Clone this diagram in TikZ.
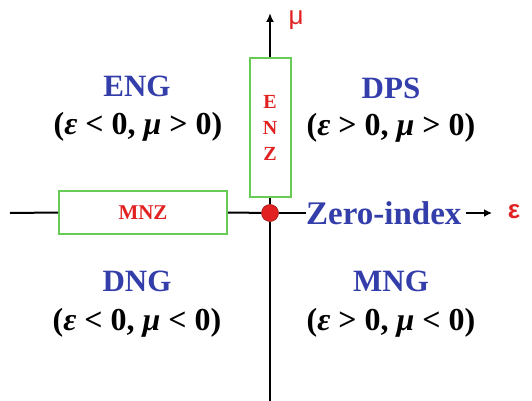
\documentclass[tikz,border=0pt]{standalone}
\usepackage{fontspec}
\setmainfont{Liberation Serif}
\newfontfamily\axisfont{Liberation Sans}
\usepackage{xcolor}
\usepackage{tikz}
\usetikzlibrary{arrows.meta,positioning}
\definecolor{zblue}{RGB}{52,62,170}
\definecolor{zred}{RGB}{226,34,34}
\definecolor{zgreen}{RGB}{102,204,85}

\begin{document}
\begin{tikzpicture}[x=1pt,y=-1pt,>=Latex,
  axis/.style={line width=2pt,draw=black},
  zerobox/.style={draw=zgreen,line width=2pt,fill=white,inner sep=0pt,text=zred},
  region/.style={text=zblue,font=\bfseries\fontsize{31}{31}\selectfont},
  cond/.style={font=\bfseries\fontsize{32}{32}\selectfont},
  axlabel/.style={text=zred,font=\axisfont\bfseries\fontsize{26}{26}\selectfont}]
\useasboundingbox (0,0) rectangle (532,401);
% origin and axis ends
\node[circle,fill=zred,draw=zred!70!black,line width=0.6pt,minimum size=17pt,inner sep=0pt] (origin) at (270,213) {};
\coordinate (left) at (10,213);
\coordinate (bottom) at (270,401);
\coordinate (top) at (270,13);
\coordinate (epstip) at (492,213);
% near-zero boxes
\node[zerobox,minimum width=41pt,minimum height=139pt,align=center,font=\bfseries\fontsize{20}{26}\selectfont] (enz) at (270,127.5) {E\\N\\Z};
\node[zerobox,minimum width=168pt,minimum height=43pt,font=\bfseries\fontsize{21}{21}\selectfont] (mnz) at (143,212.5) {MNZ};
\node[text=zblue,font=\bfseries\fontsize{33}{33}\selectfont,anchor=west,inner xsep=0pt] (zero) at (306,213) {Zero-index};
\node[axlabel] (eps) at (514,212) {ε};
\node[axlabel,font=\axisfont\fontsize{26}{26}\selectfont] (mu) at (296,20) {μ};
% axes
\draw[axis] (left)--(mnz.west);
\draw[axis] (mnz.east)--(origin);
\draw[axis] (origin)--(zero.west);
\draw[axis] (bottom)--(origin);
\draw[axis] (origin)--(enz.south);
\draw[axis,-{Latex[length=9pt,width=8pt]}] (enz.north)--(top);
\draw[line width=2pt,-{Latex[length=8pt,width=8pt]}] (zero.east)++(4pt,0)--(epstip);
% quadrants
\node[region] (eng) at (137,86) {ENG};
\node[cond] (engc) at (138,127) {(\textit{ε} < 0, \textit{μ} > 0)};
\node[region] (dps) at (391,88) {DPS};
\node[cond] (dpsc) at (391,128) {(\textit{ε} > 0, \textit{μ} > 0)};
\node[region] (dng) at (137,281) {DNG};
\node[cond] (dngc) at (137,323) {(\textit{ε} < 0, \textit{μ} < 0)};
\node[region] (mng) at (391,281) {MNG};
\node[cond] (mngc) at (391,323) {(\textit{ε} > 0, \textit{μ} < 0)};
\end{tikzpicture}
\end{document}
